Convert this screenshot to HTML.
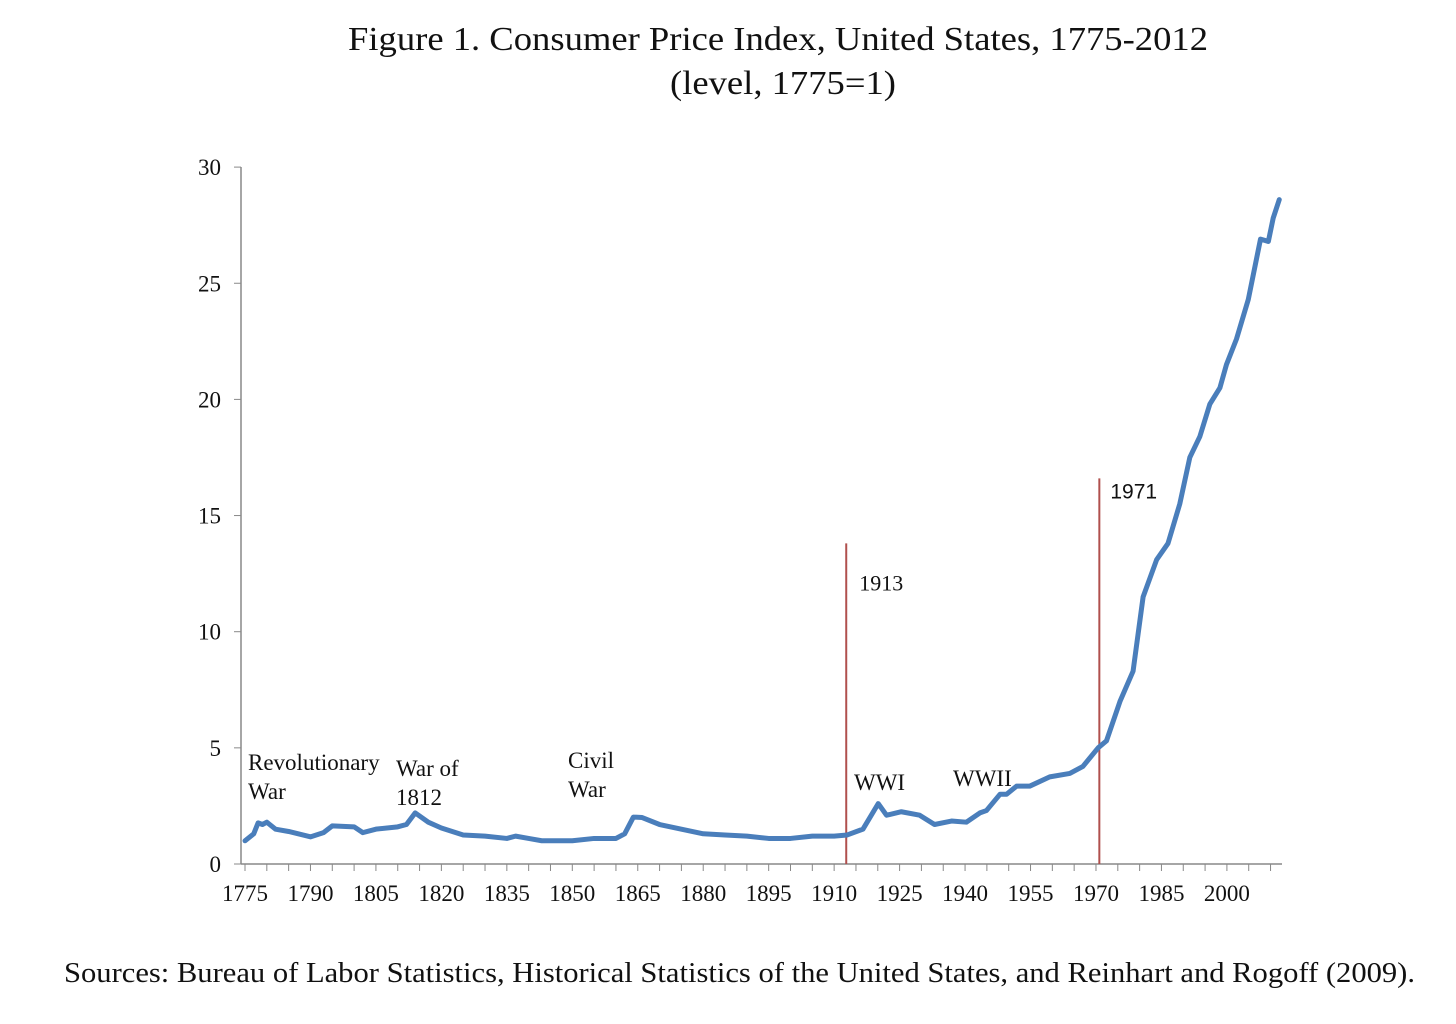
<!DOCTYPE html>
<html><head><meta charset="utf-8"><style>
body{margin:0;background:#fff;width:1456px;height:1019px;overflow:hidden}
svg text{font-family:"Liberation Serif",serif;fill:#111}
</style></head><body>
<svg width="1456" height="1019">
<text x="778" y="50" font-size="34" text-anchor="middle" textLength="860" lengthAdjust="spacingAndGlyphs">Figure 1. Consumer Price Index, United States, 1775-2012</text>
<text x="783" y="94" font-size="34" text-anchor="middle" textLength="226" lengthAdjust="spacingAndGlyphs">(level, 1775=1)</text>
<g id="axes"></g>
<g id="marks"></g>
<text x="64" y="982" font-size="28" textLength="1351" lengthAdjust="spacingAndGlyphs">Sources: Bureau of Labor Statistics, Historical Statistics of the United States, and Reinhart and Rogoff (2009).</text>
</svg>
<script>
const years=[1775,1777,1778,1779,1780,1782,1785,1790,1793,1795,1800,1802,1805,1810,1812,1814,1817,1820,1825,1830,1835,1837,1840,1843,1850,1855,1860,1862,1864,1866,1870,1875,1880,1885,1890,1895,1900,1905,1910,1913,1916.6,1920.1,1922,1925.4,1929.6,1933,1936.9,1940.3,1943.4,1944.9,1948,1949.5,1951.8,1954.8,1959.4,1964,1967,1970.5,1972.4,1975.5,1978.5,1980.8,1983.9,1986.5,1989.2,1991.5,1993.8,1996.1,1998.4,1999.9,2002.2,2004.9,2007.7,2009.5,2010.6,2012];
const cpi=[1.0,1.3,1.77,1.7,1.8,1.5,1.4,1.17,1.35,1.64,1.6,1.35,1.5,1.6,1.7,2.2,1.8,1.55,1.25,1.2,1.1,1.2,1.1,1.0,1.0,1.1,1.1,1.3,2.02,2.0,1.7,1.5,1.3,1.25,1.2,1.1,1.1,1.2,1.2,1.25,1.5,2.6,2.1,2.25,2.1,1.7,1.85,1.8,2.2,2.3,3.0,3.0,3.35,3.35,3.75,3.9,4.2,5.0,5.3,7.0,8.3,11.5,13.1,13.8,15.5,17.5,18.4,19.8,20.5,21.5,22.6,24.3,26.9,26.8,27.8,28.6];
const yTicks=[0,5,10,15,20,25,30];
const xLabels=[1775,1790,1805,1820,1835,1850,1865,1880,1895,1910,1925,1940,1955,1970,1985,2000];
const markers=[{year:1913,top:13.8,label:"1913"},{year:1971,top:16.6,label:"1971"}];
const warLabels=[["Revolutionary",248,770],["War",248,799],["War of",396,776],["1812",396,805],["Civil",568,768],["War",568,797],["WWI",854,790],["WWII",953,786]];
const NS="http://www.w3.org/2000/svg";
const X=y=>245+(y-1775)*4.364;
const Y=v=>864-v*23.23;
function mk(t,a,p){const e=document.createElementNS(NS,t);for(const k in a)e.setAttribute(k,a[k]);p.appendChild(e);return e;}
const ax=document.getElementById('axes'),mg=document.getElementById('marks');
let e=mk('line',{x1:241,y1:167,x2:241,y2:864,stroke:'#888','stroke-width':1.5},ax);


e=mk('line',{x1:241,y1:864,x2:1282,y2:864,stroke:'#888','stroke-width':1.5},ax);


yTicks.forEach(v=>{
 mk('line',{x1:234,y1:Y(v),x2:241,y2:Y(v),stroke:'#888'},ax);
 const t=mk('text',{x:221,y:Y(v)+8,'font-size':23,'text-anchor':'end'},ax);t.textContent=v;
 
 
});
for(let yr=1775;yr<=2012;yr+=5){mk('line',{x1:X(yr),y1:864,x2:X(yr),y2:871,stroke:'#888'},ax);}
xLabels.forEach(yr=>{
 const t=mk('text',{x:X(yr),y:901,'font-size':23,'text-anchor':'middle'},ax);t.textContent=yr;
 
 
});
markers.forEach((m,i)=>{
 const l=mk('line',{x1:X(m.year)-1,y1:864,x2:X(m.year)-1,y2:Y(m.top),stroke:'#b0504d','stroke-width':2},mg);
 
 
 const t=mk('text',{x:X(m.year)+(i?10:12),y:Y(m.top)+(i?20:47),'font-size':i?21:22},mg);
 if(i)t.style.fontFamily='"Liberation Sans",sans-serif';
 t.textContent=m.label;
 
 
});
warLabels.forEach(w=>{
 const t=mk('text',{x:w[1],y:w[2],'font-size':23},mg);t.textContent=w[0];
 
 
});
const p=mk('polyline',{points:years.map((y,i)=>X(y)+','+Y(cpi[i])).join(' '),fill:'none',stroke:'#4a7ebb','stroke-width':5,'stroke-linejoin':'round','stroke-linecap':'round'},mg);


</script>
</body></html>
